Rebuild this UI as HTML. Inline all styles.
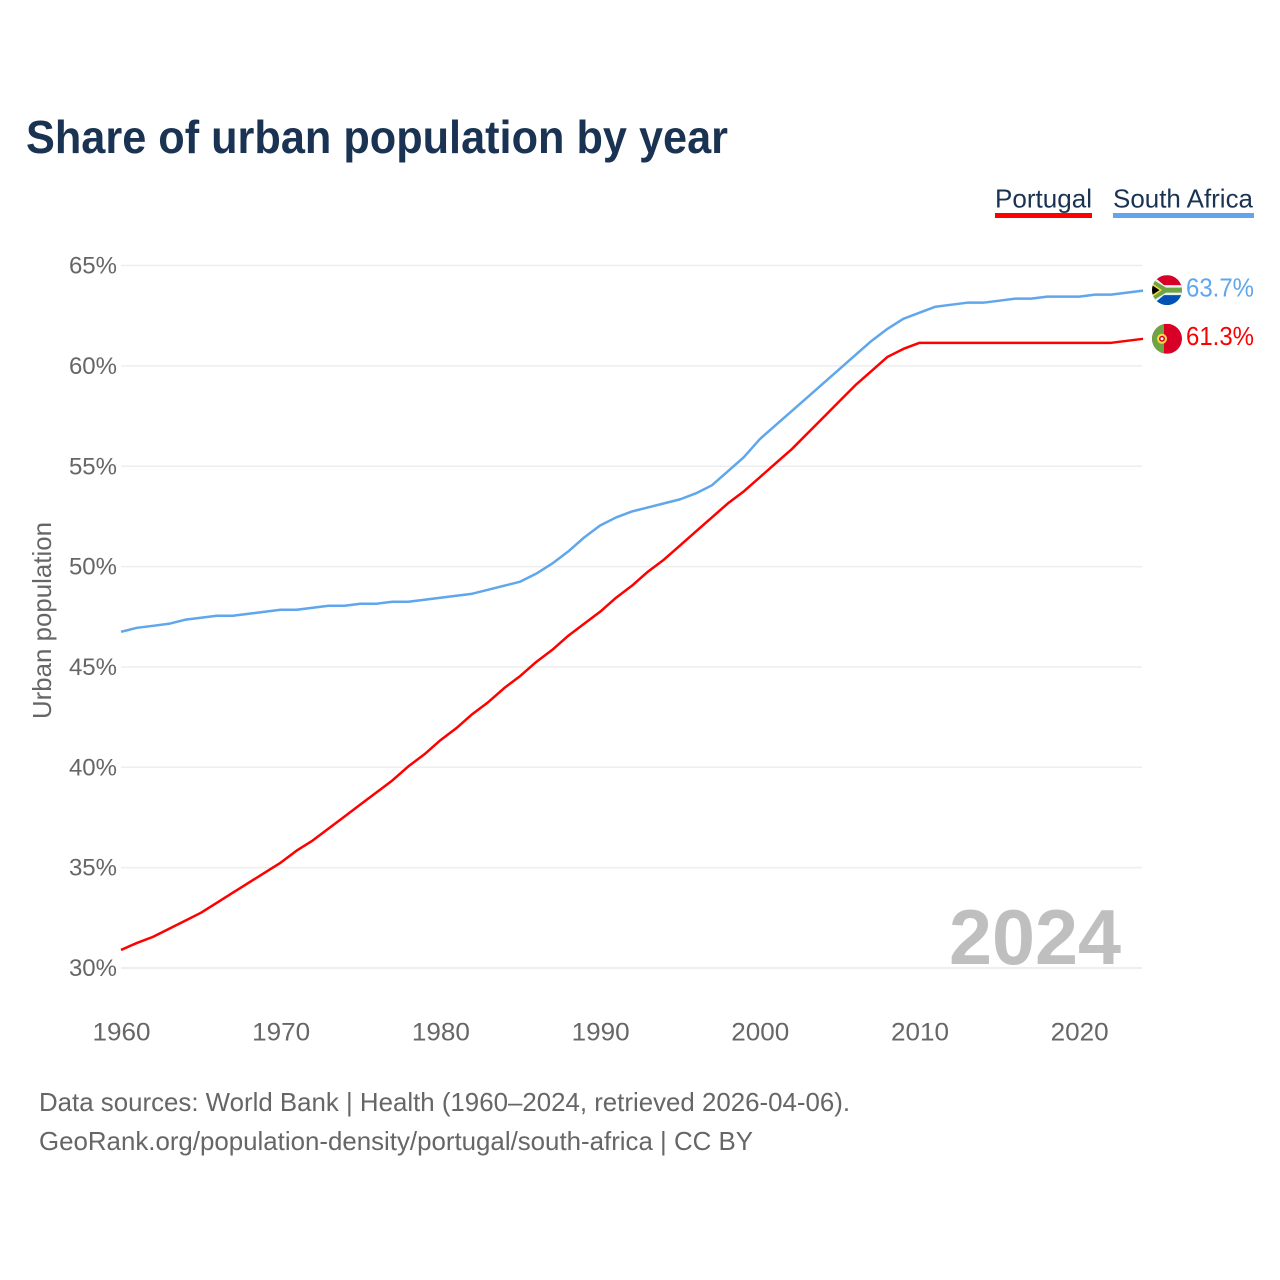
<!DOCTYPE html>
<html lang="en">
<head>
<meta charset="utf-8">
<title>Share of urban population by year</title>
<style>
html,body{margin:0;padding:0;background:#fff;}
svg{display:block;font-family:"Liberation Sans",sans-serif;}
</style>
</head>
<body>
<svg id="chart" width="1280" height="1280" viewBox="0 0 1280 1280" xmlns="http://www.w3.org/2000/svg">
  <defs>
    <clipPath id="flag-clip-za"><circle cx="0" cy="0" r="15"/></clipPath>
    <clipPath id="flag-clip-pt"><circle cx="0" cy="0" r="15"/></clipPath>
  </defs>
  <rect width="1280" height="1280" fill="#fff"/>
  <text x="26" y="153" font-size="46" font-weight="700" fill="#1a3353" textLength="702" lengthAdjust="spacingAndGlyphs">Share of urban population by year</text>

  <g>
    <g>
      <text x="995" y="207.5" font-size="26" fill="#1a3353" textLength="97" lengthAdjust="spacingAndGlyphs">Portugal</text>
      <rect x="995" y="213" width="97" height="5" fill="#ff0000"/>
    </g>
    <g>
      <text x="1113" y="207.5" font-size="26" fill="#1a3353" textLength="140" lengthAdjust="spacingAndGlyphs">South Africa</text>
      <rect x="1113" y="213" width="141" height="5" fill="#5fa6ec"/>
    </g>
  </g>

  <g id="grid"></g>
  <g id="y-ticks"></g>
  <g id="x-ticks"></g>

  <text transform="translate(51,719) rotate(-90)" font-size="26" fill="#666" textLength="197" lengthAdjust="spacingAndGlyphs">Urban population</text>

  <text id="year-watermark" x="1121" y="964" text-anchor="end" font-size="78" font-weight="700" fill="#bfbfbf" textLength="172" lengthAdjust="spacingAndGlyphs"></text>

  <g id="series" transform="translate(0,-1)"></g>

  <g id="flag-za">
    <g clip-path="url(#flag-clip-za)">
      <rect x="-15" y="-15" width="30" height="15" fill="#d80027"/>
      <rect x="-15" y="0" width="30" height="15" fill="#0052b4"/>
      <path d="M-15,-15 L-3,-5 L15,-5 L15,5 L-3,5 L-15,15 Z" fill="#f0f0f0"/>
      <path d="M-15,-11 L-1,-2.5 L15,-2.5 L15,2.5 L-1,2.5 L-15,11 Z" fill="#6da544"/>
      <path d="M-15,-7 L-5,0 L-15,7 Z" fill="#ffda44"/>
      <path d="M-15,-5 L-7.5,0 L-15,5 Z" fill="#000"/>
    </g>
  </g>
  <g id="flag-pt">
    <g clip-path="url(#flag-clip-pt)">
      <rect x="-15" y="-15" width="30" height="30" fill="#d80027"/>
      <rect x="-15" y="-15" width="12" height="30" fill="#6da544"/>
      <circle cx="-5" cy="0" r="5" fill="#ffda44"/>
      <circle cx="-5" cy="0" r="3" fill="#d80027"/>
      <circle cx="-5" cy="0" r="1.5" fill="#f0f0f0"/>
    </g>
  </g>

  <text id="value-za" x="1186" font-size="26" fill="#5fa6ec" textLength="68" lengthAdjust="spacingAndGlyphs"></text>
  <text id="value-pt" x="1186" font-size="26" fill="#ff0000" textLength="68" lengthAdjust="spacingAndGlyphs"></text>

  <text x="39" y="1111" font-size="26" fill="#666" textLength="811" lengthAdjust="spacingAndGlyphs">Data sources: World Bank | Health (1960–2024, retrieved 2026-04-06).</text>
  <text x="39" y="1150" font-size="26" fill="#666" textLength="714" lengthAdjust="spacingAndGlyphs">GeoRank.org/population-density/portugal/south-africa | CC BY</text>
</svg>
<script>
var startYear = 1960;
var yTickValues = [30, 35, 40, 45, 50, 55, 60, 65];
var xTickValues = [1960, 1970, 1980, 1990, 2000, 2010, 2020];
var currentYear = 2024;
var portugalValues = [
  30.85, 31.2, 31.5, 31.9, 32.3, 32.7, 33.2, 33.7, 34.2, 34.7,
  35.2, 35.8, 36.3, 36.9, 37.5, 38.1, 38.7, 39.3, 40.0, 40.6,
  41.3, 41.9, 42.6, 43.2, 43.9, 44.5, 45.2, 45.8, 46.5, 47.1,
  47.7, 48.4, 49.0, 49.7, 50.3, 51.0, 51.7, 52.4, 53.1, 53.7,
  54.4, 55.1, 55.8, 56.6, 57.4, 58.2, 59.0, 59.7, 60.4, 60.8,
  61.1, 61.1, 61.1, 61.1, 61.1, 61.1, 61.1, 61.1, 61.1, 61.1,
  61.1, 61.1, 61.1, 61.2, 61.3
];
var southAfricaValues = [
  46.7, 46.9, 47.0, 47.1, 47.3, 47.4, 47.5, 47.5, 47.6, 47.7,
  47.8, 47.8, 47.9, 48.0, 48.0, 48.1, 48.1, 48.2, 48.2, 48.3,
  48.4, 48.5, 48.6, 48.8, 49.0, 49.2, 49.6, 50.1, 50.7, 51.4,
  52.0, 52.4, 52.7, 52.9, 53.1, 53.3, 53.6, 54.0, 54.7, 55.4,
  56.3, 57.0, 57.7, 58.4, 59.1, 59.8, 60.5, 61.2, 61.8, 62.3,
  62.6, 62.9, 63.0, 63.1, 63.1, 63.2, 63.3, 63.3, 63.4, 63.4,
  63.4, 63.5, 63.5, 63.6, 63.7
];

var NS = 'http://www.w3.org/2000/svg';
function xScale(year) { return 121 + (year - 1960) * 15.97; }
function yScale(v) { return 968 - (v - 30) * 20.07; }
function make(tag, attrs, parent) {
  var el = document.createElementNS(NS, tag);
  for (var k in attrs) { el.setAttribute(k, attrs[k]); }
  parent.appendChild(el);
  return el;
}

var grid = document.getElementById('grid');
var yTicks = document.getElementById('y-ticks');
var xTicks = document.getElementById('x-ticks');
var seriesGroup = document.getElementById('series');

yTickValues.forEach(function (v) {
  var line = make('line', { x1: 121, x2: 1142, y1: yScale(v), y2: yScale(v), stroke: '#eeeeee', 'stroke-width': v === 30 ? 2 : 1.5 }, grid);
  
  
  var label = make('text', { x: 117, y: yScale(v) + 8, 'text-anchor': 'end', 'font-size': 24, fill: '#666' }, yTicks);
  
  
  label.textContent = v + '%';
});

xTickValues.forEach(function (year) {
  var label = make('text', { x: xScale(year) + 0.5, y: 1040.5, 'text-anchor': 'middle', 'font-size': 25, fill: '#666', textLength: 58, lengthAdjust: 'spacingAndGlyphs' }, xTicks);
  
  
  label.textContent = year;
});

function pathFor(values) {
  return values.map(function (v, i) {
    return (i ? 'L' : 'M') + xScale(startYear + i).toFixed(2) + ',' + yScale(v).toFixed(2);
  }).join(' ');
}

var lineZa = make('path', { d: pathFor(southAfricaValues), fill: 'none', stroke: '#5fa6ec', 'stroke-width': 2.5, 'stroke-linejoin': 'round' }, seriesGroup);


var linePt = make('path', { d: pathFor(portugalValues), fill: 'none', stroke: '#ff0000', 'stroke-width': 2.5, 'stroke-linejoin': 'round' }, seriesGroup);



var lastZa = southAfricaValues[southAfricaValues.length - 1];
var lastPt = portugalValues[portugalValues.length - 1];
document.getElementById('flag-za').setAttribute('transform', 'translate(1167,' + (yScale(lastZa) - 1.5) + ')');
document.getElementById('flag-pt').setAttribute('transform', 'translate(1167,' + (yScale(lastPt) - 1) + ')');
var valueZa = document.getElementById('value-za');
valueZa.setAttribute('y', yScale(lastZa) + 5);
valueZa.textContent = lastZa.toFixed(1) + '%';
var valuePt = document.getElementById('value-pt');
valuePt.setAttribute('y', yScale(lastPt) + 5);
valuePt.textContent = lastPt.toFixed(1) + '%';
document.getElementById('year-watermark').textContent = currentYear;
</script>
</body>
</html>
